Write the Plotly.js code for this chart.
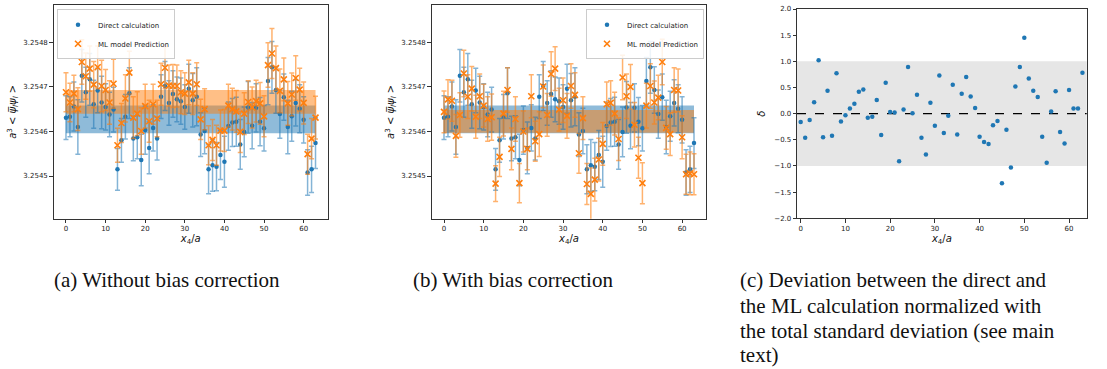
<!DOCTYPE html>
<html><head><meta charset="utf-8">
<script src="https://cdn.plot.ly/plotly-3.0.1.min.js"></script>
<style>html,body{margin:0;padding:0;background:#fff}#chart{width:1107px;height:369px}</style>
</head><body><div id="chart"></div>
<script>
const x4 = [0,1,2,3,4,5,6,7,8,9,10,11,12,13,14,15,16,17,18,19,20,21,22,23,24,25,26,27,28,29,30,31,32,33,34,35,36,37,38,39,40,41,42,43,44,45,46,47,48,49,50,51,52,53,54,55,56,57,58,59,60,61,62,63];

const directValues = [3.254631,3.254633,3.254656,3.254610,3.254725,3.254688,3.254717,3.254661,3.254692,3.254665,
 3.254655,3.254638,3.254649,3.254515,3.254580,3.254633,3.254686,3.254584,3.254587,3.254536,
 3.254603,3.254563,3.254608,3.254584,3.254678,3.254702,3.254664,3.254684,3.254672,3.254668,
 3.254655,3.254696,3.254670,3.254678,3.254593,3.254601,3.254515,3.254524,3.254521,3.254547,
 3.254532,3.254612,3.254620,3.254622,3.254571,3.254599,3.254654,3.254613,3.254653,3.254622,
 3.254607,3.254713,3.254744,3.254693,3.254639,3.254677,3.254610,3.254634,3.254664,3.254651,
 3.254626,3.254508,3.254515,3.254574];
const directErrors = [4.9e-5,4.5e-5,5.5e-5,6.1e-5,5.9e-5,5.6e-5,5.8e-5,5.4e-5,5.0e-5,5.9e-5,
 5.2e-5,5.0e-5,5.0e-5,4.7e-5,4.9e-5,5.0e-5,5.7e-5,5.0e-5,4.8e-5,5.8e-5,
 5.4e-5,5.8e-5,5.2e-5,4.8e-5,4.9e-5,5.5e-5,5.0e-5,5.2e-5,5.0e-5,5.2e-5,
 5.0e-5,5.5e-5,6.0e-5,6.5e-5,4.9e-5,5.1e-5,5.5e-5,5.8e-5,5.4e-5,5.5e-5,
 5.7e-5,5.4e-5,5.4e-5,5.5e-5,5.6e-5,5.6e-5,5.8e-5,5.2e-5,5.4e-5,5.4e-5,
 5.1e-5,5.3e-5,5.8e-5,5.2e-5,5.4e-5,5.2e-5,6.0e-5,5.6e-5,5.2e-5,5.4e-5,
 5.2e-5,5.1e-5,5.2e-5,5.7e-5];

const mlRawValues = [3.254688,3.254665,3.254685,3.254650,3.254756,3.254724,3.254741,3.254705,3.254744,3.254702,
 3.254693,3.254665,3.254707,3.254569,3.254619,3.254674,3.254732,3.254631,3.254640,3.254601,
 3.254657,3.254623,3.254661,3.254629,3.254706,3.254743,3.254703,3.254702,3.254702,3.254688,
 3.254685,3.254710,3.254685,3.254706,3.254627,3.254650,3.254569,3.254581,3.254569,3.254602,
 3.254602,3.254658,3.254650,3.254645,3.254599,3.254640,3.254666,3.254654,3.254668,3.254663,
 3.254634,3.254749,3.254775,3.254742,3.254691,3.254717,3.254663,3.254683,3.254720,3.254694,
 3.254664,3.254549,3.254584,3.254631];
const mlRawErrors = [4.4e-5,4.3e-5,4.1e-5,4.8e-5,5.0e-5,5.2e-5,5.1e-5,5.2e-5,4.8e-5,5.8e-5,
 4.6e-5,4.9e-5,5.5e-5,3.8e-5,4.4e-5,5.3e-5,4.8e-5,4.7e-5,4.9e-5,5.2e-5,
 4.9e-5,4.7e-5,4.5e-5,4.1e-5,4.7e-5,4.7e-5,4.6e-5,4.8e-5,4.7e-5,4.8e-5,
 4.7e-5,5.0e-5,4.7e-5,4.8e-5,4.5e-5,4.6e-5,4.4e-5,4.6e-5,4.5e-5,4.6e-5,
 4.7e-5,4.8e-5,4.7e-5,4.7e-5,4.6e-5,4.7e-5,4.8e-5,4.6e-5,4.7e-5,4.7e-5,
 4.6e-5,5.0e-5,5.6e-5,5.0e-5,4.9e-5,4.8e-5,4.9e-5,4.8e-5,5.0e-5,4.8e-5,
 4.7e-5,4.5e-5,4.5e-5,4.8e-5];

const mlCorrValues = [3.254644,3.254672,3.254669,3.254590,3.254637,3.254730,3.254678,3.254696,3.254633,3.254679,
 3.254658,3.254628,3.254632,3.254483,3.254543,3.254640,3.254693,3.254561,3.254628,3.254484,
 3.254600,3.254561,3.254679,3.254578,3.254594,3.254701,3.254637,3.254729,3.254741,3.254649,
 3.254670,3.254635,3.254702,3.254682,3.254551,3.254630,3.254482,3.254460,3.254492,3.254537,
 3.254572,3.254661,3.254664,3.254640,3.254583,3.254721,3.254679,3.254700,3.254615,3.254541,
 3.254484,3.254658,3.254702,3.254665,3.254676,3.254756,3.254608,3.254594,3.254693,3.254692,
 3.254587,3.254504,3.254506,3.254504];
const mlCorrErrors = [4.7e-5,4.4e-5,4.6e-5,4.8e-5,5.0e-5,5.2e-5,4.9e-5,5.0e-5,4.8e-5,5.0e-5,
 4.8e-5,5.0e-5,5.2e-5,4.0e-5,4.4e-5,5.0e-5,5.0e-5,4.7e-5,5.0e-5,4.4e-5,
 4.6e-5,4.7e-5,4.8e-5,4.5e-5,5.0e-5,4.8e-5,4.8e-5,5.0e-5,4.9e-5,4.8e-5,
 5.0e-5,5.0e-5,5.0e-5,5.0e-5,4.5e-5,4.8e-5,4.6e-5,5.8e-5,4.8e-5,4.8e-5,
 4.8e-5,5.0e-5,5.0e-5,4.8e-5,4.8e-5,5.0e-5,5.0e-5,5.0e-5,5.0e-5,4.6e-5,
 4.6e-5,5.0e-5,5.0e-5,4.8e-5,5.0e-5,5.1e-5,4.8e-5,4.8e-5,5.0e-5,4.8e-5,
 4.8e-5,4.5e-5,4.8e-5,4.6e-5];

const deltaValues = [-0.16,-0.46,-0.12,0.22,1.02,-0.45,0.44,-0.42,0.77,-0.15,
 -0.03,0.10,0.19,0.42,0.46,-0.08,-0.06,0.26,-0.41,0.59,
 0.03,0.02,-0.91,0.08,0.89,0.01,0.36,-0.46,-0.78,0.21,
 -0.23,0.73,-0.37,-0.04,0.55,-0.40,0.38,0.70,0.33,0.11,
 -0.44,-0.54,-0.58,-0.22,-0.14,-1.33,-0.31,-1.03,0.52,0.89,
 1.45,0.67,0.44,0.32,-0.44,-0.94,0.04,0.43,-0.35,-0.57,
 0.45,0.10,0.10,0.78];

const directBand = [3.254596, 3.254658];
const mlRawBand = [3.254640, 3.254693];
const mlCorrBand = [3.254597, 3.254648];
const deltaBand = [-1, 1];
const deltaRef = 0;

const xTicks = [0,10,20,30,40,50,60];
const yTicks = [3.2545,3.2546,3.2547,3.2548];
const deltaTicks = [-2.0,-1.5,-1.0,-0.5,0.0,0.5,1.0,1.5,2.0];
const seriesNames = ['Direct calculation','ML model Prediction'];
const captions = ['(a) Without bias correction','(b) With bias correction',
 '(c) Deviation between the direct and','the ML calculation normalized with','the total standard deviation (see main','text)'];

const W = 1107, H = 369;
const BLUE = '#1f77b4', ORANGE = '#ff7f0e';
const px = v => v / W, py = v => 1 - v / H;

function band(xa, ya, lim, color) {
  const x0 = x4[0], x1 = x4[x4.length - 1];
  return {x:[x0,x1,x1,x0], y:[lim[0],lim[0],lim[1],lim[1]], xaxis:xa, yaxis:ya,
    type:'scatter', mode:'none', fill:'toself', fillcolor:color, showlegend:false, hoverinfo:'skip'};
}
function errTrace(xa, ya, vals, errs, kind, legend) {
  const isBlue = kind === 0;
  return {x:x4, y:vals, xaxis:xa, yaxis:ya, type:'scatter', mode:'markers',
    name:seriesNames[kind], legend:legend,
    error_y:{type:'data', array:errs, visible:true,
      color:isBlue ? 'rgba(31,119,180,0.55)' : 'rgba(255,127,14,0.6)', thickness:1.5, width:2.5},
    marker: isBlue ? {symbol:'circle', size:4.5, color:BLUE}
                   : {symbol:'x-thin-open', size:6, color:ORANGE, line:{color:ORANGE, width:1.6}}};
}

const data = [
  band('x','y',directBand,'rgba(31,119,180,0.5)'),
  band('x','y',mlRawBand,'rgba(255,127,14,0.5)'),
  errTrace('x','y',directValues,directErrors,0,'legend'),
  errTrace('x','y',mlRawValues,mlRawErrors,1,'legend'),
  band('x2','y2',directBand,'rgba(31,119,180,0.5)'),
  band('x2','y2',mlCorrBand,'rgba(255,127,14,0.5)'),
  errTrace('x2','y2',directValues,directErrors,0,'legend2'),
  errTrace('x2','y2',mlCorrValues,mlCorrErrors,1,'legend2'),
  {x:x4, y:deltaValues, xaxis:'x3', yaxis:'y3', type:'scatter', mode:'markers',
   marker:{symbol:'circle', size:4.5, color:BLUE}, showlegend:false}
];

const tickFont = {family:'DejaVu Sans', size:7, color:'#222'};
const titleFont = {family:'DejaVu Sans', size:10, color:'#111'};
function ax(extra) {
  return Object.assign({showline:true, linecolor:'#000', linewidth:0.8, mirror:true,
    ticks:'outside', ticklen:3.5, tickwidth:0.8, tickcolor:'#000', showgrid:false,
    zeroline:false, tickfont:tickFont, automargin:false}, extra);
}
const xTitle = {text:'<i>x</i><sub>4</sub>/<i>a</i>', font:titleFont, standoff:2};
const yTitle = {text:'<i>a</i><sup>3</sup> &lt; <i>ψ̅<sub>l</sub>ψ<sub>l</sub></i> &gt;', font:titleFont, standoff:4};
const legendBase = {yanchor:'top', bgcolor:'rgba(255,255,255,0.85)', bordercolor:'#ccc', borderwidth:1,
  font:{family:'DejaVu Sans', size:7, color:'#222'}, tracegroupgap:0, itemwidth:30};

const layout = {
  width:W, height:H, margin:{l:0,r:0,t:0,b:0}, paper_bgcolor:'#fff', plot_bgcolor:'#fff',
  xaxis: ax({domain:[px(53.5),px(328)], range:[-3.15,66.15], tickvals:xTicks, anchor:'y', title:xTitle}),
  yaxis: ax({domain:[py(218.7),py(5)], range:[3.2544042,3.2548838], tickvals:yTicks, tickformat:'.4f', anchor:'x', title:yTitle}),
  xaxis2: ax({domain:[px(431.5),px(706.5)], range:[-3.15,66.15], tickvals:xTicks, anchor:'y2', title:xTitle}),
  yaxis2: ax({domain:[py(218.7),py(5)], range:[3.2544042,3.2548838], tickvals:yTicks, tickformat:'.4f', anchor:'x2', title:yTitle}),
  xaxis3: ax({domain:[px(797),px(1086.7)], range:[-0.83,63.95], tickvals:xTicks, anchor:'y3', title:xTitle}),
  yaxis3: ax({domain:[py(218.3),py(9)], range:[-2,2], tickvals:deltaTicks, tickformat:'.1f', anchor:'x3',
    title:{text:'<i>δ</i>', font:titleFont, standoff:6}}),
  legend: Object.assign({x:px(57), y:py(9.3), xanchor:'left'}, legendBase),
  legend2: Object.assign({x:px(704), y:py(9.3), xanchor:'right'}, legendBase),
  shapes:[
    {type:'rect', xref:'x3 domain', x0:0, x1:1, yref:'y3', y0:deltaBand[0], y1:deltaBand[1],
     fillcolor:'#e6e6e6', line:{width:0}, layer:'below'},
    {type:'line', xref:'x3 domain', x0:0, x1:1, yref:'y3', y0:deltaRef, y1:deltaRef,
     line:{color:'#000', width:1.2, dash:'dash'}, layer:'below'}
  ],
  annotations:[
    {text:captions[0], x:px(52), y:py(280)},
    {text:captions[1], x:px(411), y:py(280)},
    {text:captions[2], x:px(738), y:py(280)},
    {text:captions[3], x:px(738), y:py(306)},
    {text:captions[4], x:px(738), y:py(331)},
    {text:captions[5], x:px(738), y:py(355)}
  ].map(a => Object.assign({xref:'paper', yref:'paper', xanchor:'left', yanchor:'middle', showarrow:false,
     font:{family:'Liberation Serif', size:21, color:'#111'}}, a))
};

Plotly.newPlot('chart', data, layout, {displayModeBar:false, staticPlot:true});
</script></body></html>
